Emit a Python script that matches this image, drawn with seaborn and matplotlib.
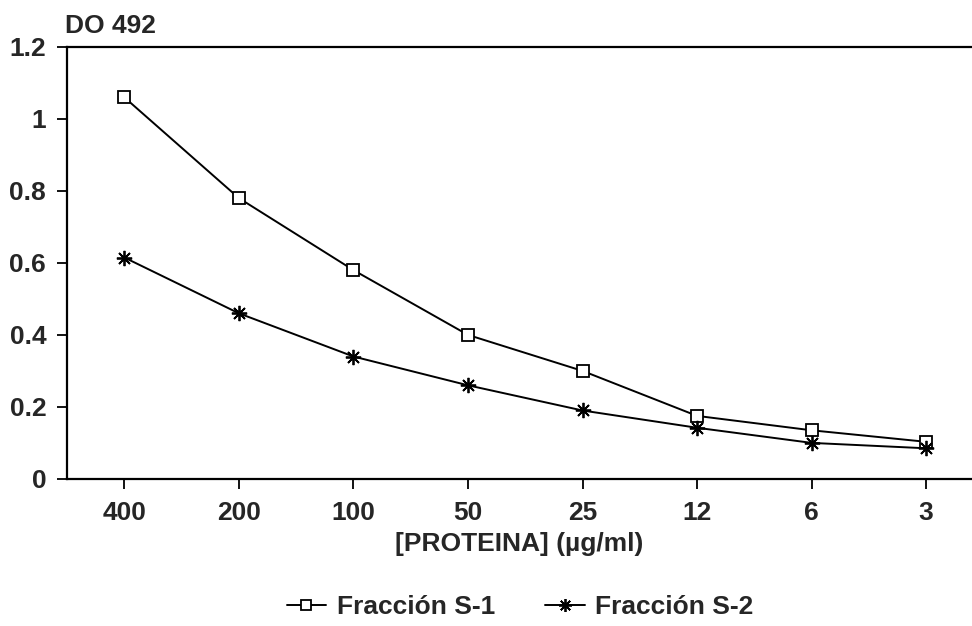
import numpy as np
import pandas as pd
import seaborn as sns
import matplotlib.pyplot as plt

# concentraciones de proteina (ug/ml), en el orden del eje
concentraciones = ['400', '200', '100', '50', '25', '12', '6', '3']
s1_vals = [1.06, 0.78, 0.58, 0.40, 0.30, 0.175, 0.135, 0.103]
s2_vals = [0.615, 0.46, 0.34, 0.26, 0.19, 0.142, 0.10, 0.085]
series = ['Fracción S-1', 'Fracción S-2']
y_ticks = [0, 0.2, 0.4, 0.6, 0.8, 1, 1.2]
y_labels = ['0', '0.2', '0.4', '0.6', '0.8', '1', '1.2']

pos = np.arange(len(concentraciones))
df = pd.DataFrame({
    'pos': np.concatenate([pos, pos]),
    'DO': s1_vals + s2_vals,
    'serie': [series[0]] * len(pos) + [series[1]] * len(pos),
})

sns.set_style('white')
plt.rcParams['font.family'] = ['Liberation Sans', 'DejaVu Sans']
plt.rcParams['font.weight'] = 'bold'
FS = 19

fig = plt.figure(figsize=(9.72, 6.26), dpi=100)
ax = fig.add_axes([0.069, 0.235, 0.931, 0.69])

# squares need a white face, the asterisk is line art -> one call per series
marker_opts = {
    series[0]: dict(marker='s', markersize=9, markerfacecolor='white'),
    series[1]: dict(marker=(8, 2, 0), markersize=11),
}
for s in series:
    sns.lineplot(data=df[df.serie == s], x='pos', y='DO', color='black',
                 markeredgecolor='black', markeredgewidth=1.3, linewidth=1.4,
                 label=s, ax=ax, **marker_opts[s])

ax.set_xlim(-0.5, 7.4)
ax.set_ylim(0, 1.2)
ax.set_xticks(pos)
ax.set_xticklabels(concentraciones, fontsize=FS, fontweight='bold')
ax.set_yticks(y_ticks)
ax.set_yticklabels(y_labels, fontsize=FS, fontweight='bold')
ax.tick_params(axis='both', direction='out', length=7, width=1.3, color='black',
               left=True, bottom=True)
ax.tick_params(axis='y', pad=8)
ax.tick_params(axis='x', pad=9)

for side in ['left', 'top', 'bottom']:
    ax.spines[side].set_visible(True)
    ax.spines[side].set_color('black')
    ax.spines[side].set_linewidth(1.6)
ax.spines['right'].set_visible(False)

ax.set_xlabel('[PROTEINA] (µg/ml)', fontsize=FS, fontweight='bold', labelpad=5)
ax.set_ylabel('')
fig.text(0.067, 0.947, 'DO 492', fontsize=FS, fontweight='bold', ha='left', va='baseline')

handles, labels = ax.get_legend_handles_labels()
ax.get_legend().remove()
fig.legend(handles, labels, loc='center', bbox_to_anchor=(0.535, 0.03), ncol=2,
           frameon=False, fontsize=FS, handlelength=1.5, columnspacing=1.9,
           handletextpad=0.4, markerscale=0.85)

fig.savefig('out.png', dpi=100)
